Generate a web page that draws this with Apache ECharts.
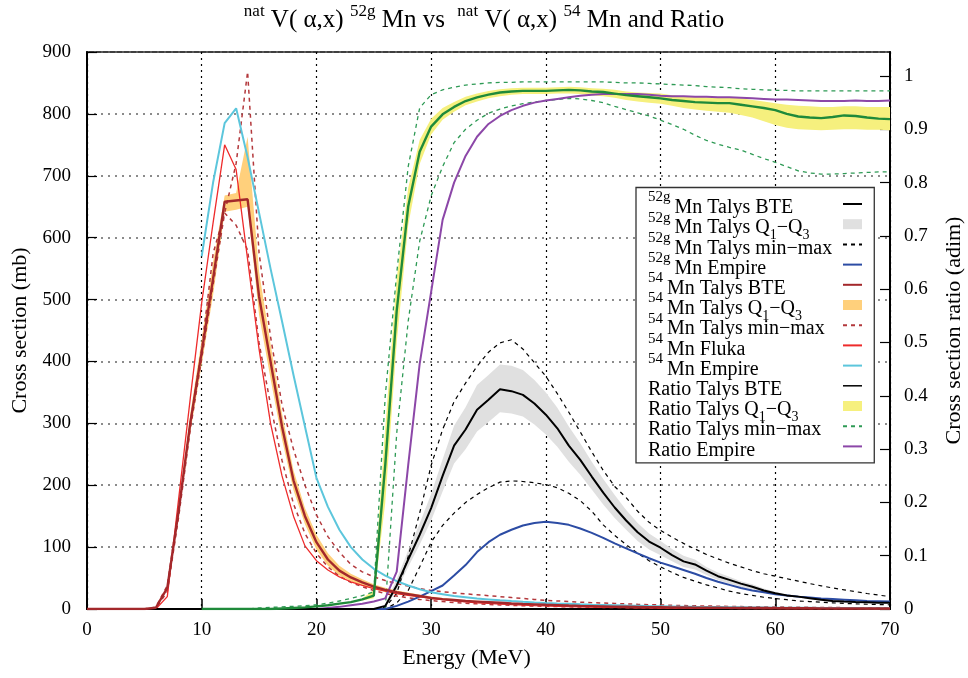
<!DOCTYPE html>
<html><head><meta charset="utf-8">
<script src="https://cdn.jsdelivr.net/npm/echarts@6/dist/echarts.min.js"></script>
<style>html,body{margin:0;padding:0;background:#fff}#c{width:968px;height:678px}</style>
</head><body><div id="c"></div><script>
// ---------- DATA ----------
const energy = [0,1,2,3,4,5,6,7,8,9,10,11,12,13,14,15,16,17,18,19,20,21,22,23,24,25,26,27,28,29,30,31,32,33,34,35,36,37,38,39,40,41,42,43,44,45,46,47,48,49,50,51,52,53,54,55,56,57,58,59,60,61,62,63,64,65,66,67,68,69,70];
const xTicks = [0,10,20,30,40,50,60,70];
const yLeftTicks = [0,100,200,300,400,500,600,700,800,900];
const yRightTicks = [0,0.1,0.2,0.3,0.4,0.5,0.6,0.7,0.8,0.9,1];

// 52gMn (mb)
const m52Bte = [0,0,0,0,0,0,0,0,0,0, 0,0,0,0,0,0,0,0,0,0, 0,0,0,0,0,0,5,38,80,120,
  163,215,264,290,322,338,355,352,346,332, 314,292,264,241,214,188,164,143,124,109,
  99,87,77,72,62,53,47,41,36,30, 25.5,22,20,17.5,15,13,12,11.3,10.8,10.3,10];
const m52Q1 = [null,null,null,null,null,null,null,null,null,null, null,null,null,null,null,null,null,null,null,null, null,null,null,null,null,null,3,30,68,104,
  143,190,235,258,287,302,318,316,311,298, 282,262,238,217,193,169,147,128,110,96,
  87,77,68,64,55,47,41,36,32,27, 23,20,18,16,13.5,12,11,10.3,9.8,9.4,9];
const m52Q3 = [null,null,null,null,null,null,null,null,null,null, null,null,null,null,null,null,null,null,null,null, null,null,null,null,null,null,8,48,95,138,
  186,242,296,326,362,378,395,393,386,370, 350,325,295,268,238,210,184,160,139,122,
  110,97,86,80,68,59,52,45,40,33, 28,24,22,19,16.5,14,13,12.3,11.8,11.2,11];
const m52Max = [0,0,0,0,0,0,0,0,0,0, 0,0,0,0,0,0,0,0,0,0, 0,0,0,0,0,0,3,25,85,155,
  232,290,335,365,392,415,430,435,420,398, 376,348,318,286,254,224,198,180,158,140,
  127,116,106,97,88,81,74,68,62,57, 53,49,45,41,37.5,34,31,28,25,22.5,20];
const m52Min = [0,0,0,0,0,0,0,0,0,0, 0,0,0,0,0,0,0,0,0,0, 0,0,0,0,0,0,0,10,30,68,
  108,135,155,172,185,196,205,207,206,204, 201,196,187,175,158,136,119,104,90,78,
  68,59,51,45,39,34,29,25,22,19, 17,15,13,12,11,10,9,8.3,7.7,7.2,6.8];
const m52Empire = [0,0,0,0,0,0,0,0,0,0, 0,0,0,0,0,0,0,0,0,0, 0,0,0,0,0,0,0,5,12,20,
  29,38,54,71,92,108,120,128,135,139, 141,139,136,130,123,115,106,98,90,82,
  75,69,63,57,50,44,39,34,30,27, 24,22,20,18.5,17,16,15,14,13,12.5,12];

// 54Mn (mb)
const m54Bte = [0,0,0,0,0,0,2,34,160,300, 415,535,658,660,662,505,400,295,208,150,
  108,80,62,51,43,36,31,27,24,21, 18,16,14.5,13,12,11,10,9,8.2,7.5,
  6.8,6.2,5.6,5.1,4.7,4.3,3.9,3.6,3.3,3.0, 2.8,2.6,2.4,2.2,2.0,1.9,1.8,1.7,1.6,1.5,
  1.4,1.3,1.2,1.1,1.0,1.0,0.9,0.9,0.8,0.8,0.7];
const m54Q1 = [0,0,0,0,0,0,1.9,32,152,285, 395,508,642,645,650,475,372,274,192,137,
  96,70,54,45,38,32,27.5,24,21.5,19, 16,14.4,13,11.7,10.8,9.9,9,8.1,7.4,6.8,
  6.1,5.6,5,4.6,4.2,3.9,3.5,3.2,3,2.7, 2.5,2.3,2.2,2,1.8,1.7,1.6,1.5,1.4,1.35,
  1.25,1.2,1.1,1,0.9,0.9,0.8,0.8,0.7,0.7,0.6];
const m54Q3 = [0,0,0,0,0,0,2.1,36,168,315, 436,562,668,672,763,545,428,316,224,163,
  120,90,70,57,48,40,34.5,30,26.5,23, 20,17.6,16,14.3,13.2,12.1,11,9.9,9,8.3,
  7.5,6.8,6.2,5.6,5.2,4.7,4.3,4,3.6,3.3, 3.1,2.9,2.6,2.4,2.2,2.1,2,1.9,1.8,1.65,
  1.55,1.4,1.3,1.2,1.1,1.1,1,1,0.9,0.9,0.8];
const m54Max = [0,0,0,0,0,0,3,38,165,300, 420,575,640,720,868,575,440,330,258,200,
  152,117,92,72,60,52,46,41,37,33, 30,28,26,24.5,23,21.5,20,18.5,17,15.5,
  14,13,12,11,10.3,9.6,9,8.3,7.6,7, 6.5,6,5.6,5.2,4.8,4.5,4.2,3.9,3.6,3.4,
  3.2,3,2.8,2.6,2.4,2.3,2.2,2.1,2,1.9,1.8];
const m54Min = [0,0,0,0,0,0,1,28,150,290, 405,525,640,620,580,430,330,240,170,122,
  90,68,53,43,36,30,25,21,18,15.5, 13.5,12,10.5,9.3,8.3,7.4,6.6,5.9,5.3,4.8,
  4.3,3.9,3.5,3.2,2.9,2.6,2.4,2.2,2,1.8, 1.7,1.5,1.4,1.3,1.2,1.1,1,0.9,0.85,0.8,
  0.75,0.7,0.65,0.6,0.55,0.5,0.45,0.4,0.4,0.35,0.3];
const m54Fluka = [0,0,0,0,0,0,0,20,180,340, 495,625,750,710,565,420,300,215,150,102,
  78,63,52,44,38,33,29,25,22,19.5, 17,15,13,11.5,10,9,8,7,6.2,5.5,
  4.9,4.4,3.9,3.5,3.1,2.8,2.5,2.2,2,1.8, 1.6,1.5,1.4,1.3,1.2,1.1,1,0.9,0.85,0.8,
  0.75,0.7,0.65,0.6,0.55,0.5,0.5,0.45,0.45,0.4,0.4];
const m54Empire = [null,null,null,null,null,null,null,null,null,null, 570,690,785,809,730,640,550,465,378,295,
  212,165,128,100,80,65,54,45,38,32, 27,24,21,19,17,15.5,14,12.8,11.7,10.7,
  9.8,9,8.3,7.6,7,6.5,6,5.5,5.1,4.7, 4.4,4.1,3.8,3.5,3.3,3.1,2.9,2.7,2.5,2.4,
  2.2,2.1,2,1.9,1.8,1.7,1.6,1.5,1.4,1.35,1.3];

// Ratio (adim)
const ratioBte = [null,null,null,null,null,null,null,null,null,null, 0,0,0,0,0,0,0,0.001,0.002,0.003,
  0.005,0.007,0.01,0.013,0.018,0.025,0.27,0.56,0.755,0.858, 0.905,0.928,0.942,0.953,0.96,0.965,0.969,0.971,0.972,0.972,
  0.972,0.973,0.974,0.973,0.971,0.97,0.967,0.964,0.962,0.96, 0.958,0.955,0.953,0.951,0.95,0.949,0.949,0.946,0.943,0.94,
  0.936,0.929,0.924,0.922,0.921,0.923,0.926,0.925,0.922,0.92,0.919];
const ratioQ1 = [null,null,null,null,null,null,null,null,null,null, null,null,null,null,null,null,null,null,null,null,
  null,null,null,null,0.016,0.02,0.2,0.5,0.72,0.835, 0.89,0.918,0.933,0.945,0.952,0.958,0.962,0.965,0.966,0.966,
  0.966,0.967,0.967,0.966,0.964,0.962,0.959,0.955,0.952,0.95, 0.948,0.944,0.94,0.937,0.935,0.933,0.931,0.927,0.922,0.915,
  0.908,0.903,0.9,0.899,0.898,0.899,0.9,0.9,0.899,0.899,0.898];
const ratioQ3 = [null,null,null,null,null,null,null,null,null,null, null,null,null,null,null,null,null,null,null,null,
  null,null,null,null,0.02,0.035,0.34,0.62,0.79,0.88, 0.92,0.94,0.951,0.961,0.967,0.972,0.975,0.977,0.978,0.978,
  0.978,0.979,0.98,0.979,0.977,0.976,0.974,0.971,0.969,0.968, 0.967,0.964,0.962,0.961,0.96,0.96,0.96,0.958,0.955,0.952,
  0.949,0.946,0.944,0.943,0.942,0.942,0.943,0.943,0.942,0.942,0.942];
const ratioMax = [null,null,null,null,null,null,null,null,null,null, 0,0,0,0,0,0.002,0.003,0.004,0.005,0.006,
  0.008,0.011,0.015,0.02,0.025,0.032,0.4,0.63,0.83,0.94, 0.965,0.974,0.979,0.983,0.985,0.987,0.988,0.988,0.989,0.989,
  0.989,0.989,0.989,0.989,0.989,0.989,0.988,0.987,0.987,0.986, 0.985,0.984,0.983,0.982,0.98,0.979,0.978,0.976,0.975,0.974,
  0.973,0.973,0.972,0.972,0.972,0.972,0.972,0.972,0.972,0.972,0.972];
const ratioMin = [null,null,null,null,null,null,null,null,null,null, 0,0,0,0,0,0,0,0,0,0,
  0,0,0,0,0,0,0,0.33,0.54,0.69, 0.775,0.83,0.875,0.9,0.917,0.93,0.938,0.944,0.948,0.951,
  0.954,0.956,0.958,0.957,0.954,0.95,0.943,0.937,0.931,0.925, 0.917,0.909,0.9,0.889,0.879,0.872,0.866,0.861,0.853,0.845,
  0.838,0.83,0.822,0.818,0.816,0.816,0.817,0.818,0.819,0.82,0.82];
const ratioEmpire = [null,null,null,null,null,null,null,null,null,null, 0,0,0,0,0,0,0,0,0,0,
  0,0.002,0.004,0.007,0.01,0.014,0.02,0.07,0.27,0.46, 0.595,0.73,0.8,0.85,0.886,0.91,0.925,0.936,0.944,0.95,
  0.954,0.957,0.96,0.963,0.965,0.966,0.966,0.966,0.966,0.965, 0.963,0.962,0.962,0.961,0.961,0.96,0.96,0.959,0.958,0.957,
  0.956,0.956,0.955,0.954,0.953,0.953,0.953,0.954,0.953,0.953,0.954];

// Legend texts
const legendSup  = ['52g','52g','52g','52g','54','54','54','54','54','','','',''];
const legendMain = ['Mn Talys BTE','Mn Talys Q_1−Q_3','Mn Talys min−max','Mn Empire',
  'Mn Talys BTE','Mn Talys Q_1−Q_3','Mn Talys min−max','Mn Fluka','Mn Empire',
  'Ratio Talys BTE','Ratio Talys Q_1−Q_3','Ratio Talys min−max','Ratio Empire'];
const names = legendMain.map((m,i)=> legendSup[i] + m.replace(/_/g,''));

// ---------- STYLE ----------
const FONT = "'Liberation Serif','DejaVu Serif',serif";
const C = {m52:'#000000', m52band:'#e0e0e0', m52dash:'#000000', m52emp:'#2c4ca4',
  m54:'#a3282b', m54band:'#ffd07c', m54dash:'#b3383c', fluka:'#ee2b2b', m54emp:'#5cc6dc',
  ratio:'#1f8a3a', ratioBand:'#f6f07e', ratioDash:'#2e9a55', ratioEmp:'#8c47a8'};

function line(name, data, color, width, opts) {
  return Object.assign({name, type:'line', data, symbol:'none', yAxisIndex:0,
    lineStyle:{color, width}, itemStyle:{color}, z:3, animation:false}, opts||{});
}
function dashed(name, data, color, width, yAxisIndex) {
  return line(name, data, color, width, {yAxisIndex, z:2, lineStyle:{color, width, type:[4,4]}});
}
function band(name, lo, hi, color, yAxisIndex, stackId) {
  const diff = hi.map((v,i)=> (v==null||lo[i]==null) ? null : +(v - lo[i]).toFixed(5));
  return [
    {name:'_'+stackId, type:'line', data:lo, stack:stackId, yAxisIndex, symbol:'none',
     lineStyle:{width:0, opacity:0}, z:1, silent:true, animation:false},
    {name, type:'line', data:diff, stack:stackId, yAxisIndex, symbol:'none',
     lineStyle:{width:0, opacity:0}, itemStyle:{color}, areaStyle:{color, opacity:1}, z:1, animation:false}
  ];
}

const series = [].concat(
  band(names[1], m52Q1, m52Q3, C.m52band, 0, 'b52'),
  band(names[5], m54Q1, m54Q3, C.m54band, 0, 'b54'),
  band(names[10], ratioQ1, ratioQ3, C.ratioBand, 1, 'brat'),
  [dashed(names[2], m52Max, C.m52dash, 1.2, 0), dashed(names[2], m52Min, C.m52dash, 1.2, 0),
   dashed(names[6], m54Max, C.m54dash, 1.5, 0), dashed(names[6], m54Min, C.m54dash, 1.5, 0),
   dashed(names[11], ratioMax, C.ratioDash, 1.3, 1), dashed(names[11], ratioMin, C.ratioDash, 1.3, 1),
   line(names[3], m52Empire, C.m52emp, 2),
   line(names[7], m54Fluka, C.fluka, 1.3),
   line(names[8], m54Empire, C.m54emp, 2),
   line(names[12], ratioEmpire, C.ratioEmp, 2, {yAxisIndex:1}),
   line(names[0], m52Bte, C.m52, 2, {z:4}),
   line(names[4], m54Bte, C.m54, 2.4, {z:4}),
   line(names[9], ratioBte, C.ratio, 2.4, {yAxisIndex:1, z:4})]
);

function richLabel(i) {
  let s = legendSup[i] ? '{s|' + legendSup[i] + '}' : '';
  legendMain[i].split(/_(\d)/).forEach((p,k)=>{ if (p) s += (k % 2 ? '{b|' + p + '}' : '{m|' + p + '}'); });
  return s;
}
const legendRich = {
  s:{fontFamily:FONT, fontSize:15, lineHeight:15, padding:[0,4,17,0], verticalAlign:'bottom', color:'#000'},
  m:{fontFamily:FONT, fontSize:20, lineHeight:20, padding:[8,0,4,0], verticalAlign:'bottom', color:'#000'},
  b:{fontFamily:FONT, fontSize:14, lineHeight:14, verticalAlign:'bottom', color:'#000'}
};
const isTick10 = (i, v) => xTicks.indexOf(Number(v)) >= 0;

const option = {
  animation:false,
  backgroundColor:'#fff',
  title:{
    text:'{s|nat}{m| V( α,x) }{s|52g}{m| Mn vs  }{s|nat}{m| V( α,x) }{s|54}{m| Mn and Ratio}',
    left:'center', top:8, padding:0,
    textStyle:{fontFamily:FONT, fontWeight:'normal', rich:{
      s:{fontFamily:FONT, fontWeight:'normal', fontSize:17, lineHeight:17, padding:[3,0,13,0], verticalAlign:'bottom', color:'#000'},
      m:{fontFamily:FONT, fontWeight:'normal', fontSize:25, lineHeight:25, padding:[8,0,0,0], verticalAlign:'bottom', color:'#000'}}}
  },
  grid:{left:87, right:78, top:52, bottom:69, show:true, borderColor:'#000', borderWidth:1.5,
    containLabel:false, outerBoundsMode:'none'},
  legend:[
    {id:'legIcon', orient:'vertical', left:636, top:187.5, padding:[6.5,4.5,6.5,206], itemGap:0.2,
     itemWidth:19, itemHeight:10, align:'left', selectedMode:false,
     backgroundColor:'#fff', borderColor:'#333', borderWidth:1.3, z:5,
     itemStyle:{opacity:0},
     formatter:()=>' ', textStyle:{fontSize:10, lineHeight:20},
     data:names.map((n,i)=>{
       const d = {name:n};
       if (i===1 || i===5 || i===10) { d.icon = 'rect'; d.itemStyle = {opacity:1}; }
       if (i===9) { d.lineStyle = {color:'#000', width:1.5}; }
       return d;
     })},
    {id:'legText', orient:'vertical', left:643, top:190, padding:0, itemGap:-11.8,
     itemWidth:0, itemHeight:0, align:'left', selectedMode:false, z:6, icon:'none',
     data:names.map(n=>({name:n, icon:'none'})),
     formatter:(name)=> richLabel(names.indexOf(name)),
     textStyle:{fontFamily:FONT, color:'#000', rich:legendRich}}
  ],
  xAxis:{type:'category', data:energy, boundaryGap:false,
    name:'Energy (MeV)', nameLocation:'middle', nameGap:38,
    nameTextStyle:{fontFamily:FONT, fontSize:22, color:'#000', padding:[0,44,0,0]},
    axisLine:{lineStyle:{color:'#000', width:2}},
    axisTick:{inside:true, length:10, interval:isTick10, lineStyle:{color:'#000', width:1.5}},
    axisLabel:{interval:isTick10, fontFamily:FONT, fontSize:19, color:'#000', margin:12},
    splitLine:{show:true, interval:isTick10, lineStyle:{color:'#000', width:1.2, type:[2,4]}}
  },
  yAxis:[
    {type:'value', min:yLeftTicks[0], max:yLeftTicks[yLeftTicks.length-1], interval:100,
     name:'Cross section (mb)', nameLocation:'middle', nameGap:56, nameRotate:90,
     nameTextStyle:{fontFamily:FONT, fontSize:22, color:'#000'},
     axisLine:{show:true, lineStyle:{color:'#000', width:2}},
     axisTick:{show:true, inside:true, length:10, lineStyle:{color:'#000', width:1.2}},
     axisLabel:{fontFamily:FONT, fontSize:19, color:'#000', margin:16},
     splitLine:{show:true, lineStyle:{color:'#666', width:1.5, type:[2,5]}}},
    {type:'value', min:yRightTicks[0], max:1.045, interval:0.1, position:'right',
     name:'Cross section ratio (adim)', nameLocation:'middle', nameGap:53, nameRotate:90,
     nameTextStyle:{fontFamily:FONT, fontSize:22, color:'#000'},
     axisLine:{show:true, lineStyle:{color:'#000', width:2}},
     axisTick:{show:true, inside:true, length:10, lineStyle:{color:'#000', width:1.2}},
     axisLabel:{fontFamily:FONT, fontSize:19, color:'#000', margin:14, showMaxLabel:false,
       formatter:(v)=> (yRightTicks.some(t=>Math.abs(t-v)<1e-6) ? String(+v.toFixed(1)) : '')},
     splitLine:{show:false}}
  ],
  series
};
const chart = echarts.init(document.getElementById('c'), null, {renderer:'canvas'});
chart.setOption(option);
</script></body></html>
